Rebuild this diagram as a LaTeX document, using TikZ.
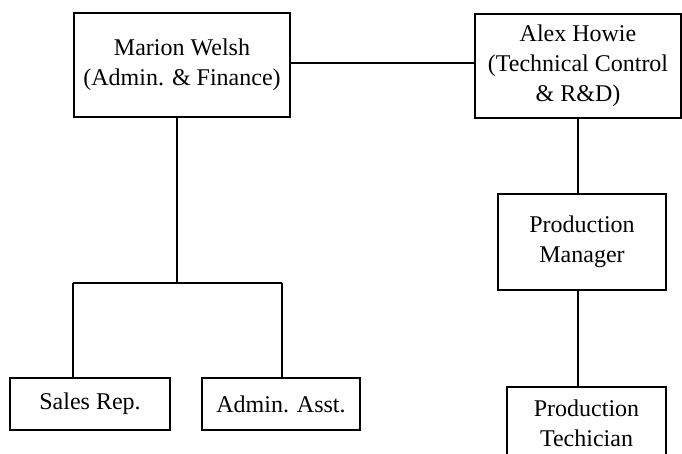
\documentclass[tikz,border=0pt]{standalone}
\usepackage{fontspec}
\setmainfont{Liberation Serif}
\begin{document}
\begin{tikzpicture}[x=1pt,y=-1pt,
  box/.style={draw,line width=1.1pt,rectangle,inner sep=0pt,align=center,
    font=\fontsize{24}{30}\selectfont},
  link/.style={line width=1.1pt}]
\useasboundingbox (0,0) rectangle (682,453);
\node[box,minimum width=216pt,minimum height=104pt] (marion) at (182,65) {Marion Welsh\\(Admin. \& Finance)};
\node[box,minimum width=206pt,minimum height=104pt] (alex) at (578,66) {Alex Howie\\(Technical Control\\\& R\&D)};
\node[box,minimum width=160pt,minimum height=52pt] (sales) at (90,404) {Sales Rep.};
\node[box,minimum width=158pt,minimum height=52pt] (asst) at (281,404) {Admin. Asst.};
\node[box,minimum width=168pt,minimum height=96pt] (pm) at (582,242) {Production\\Manager};
\node[box,minimum width=159pt,minimum height=72pt] (pt) at (586.5,423) {Production\\Techician};
\coordinate (join) at (177,283);
\coordinate (L) at (73,283);
\coordinate (R) at (282,283);
\draw[link] (marion.east |- 0,63) -- (alex.west |- 0,63);
\draw[link] (join |- marion.south) -- (join);
\draw[link] (L) -- (R);
\draw[link] (L) -- (L |- sales.north);
\draw[link] (R) -- (R |- asst.north);
\draw[link] (alex.south) -- (alex.south |- pm.north);
\draw[link] (alex.south |- pm.south) -- (alex.south |- pt.north);
\end{tikzpicture}
\end{document}
